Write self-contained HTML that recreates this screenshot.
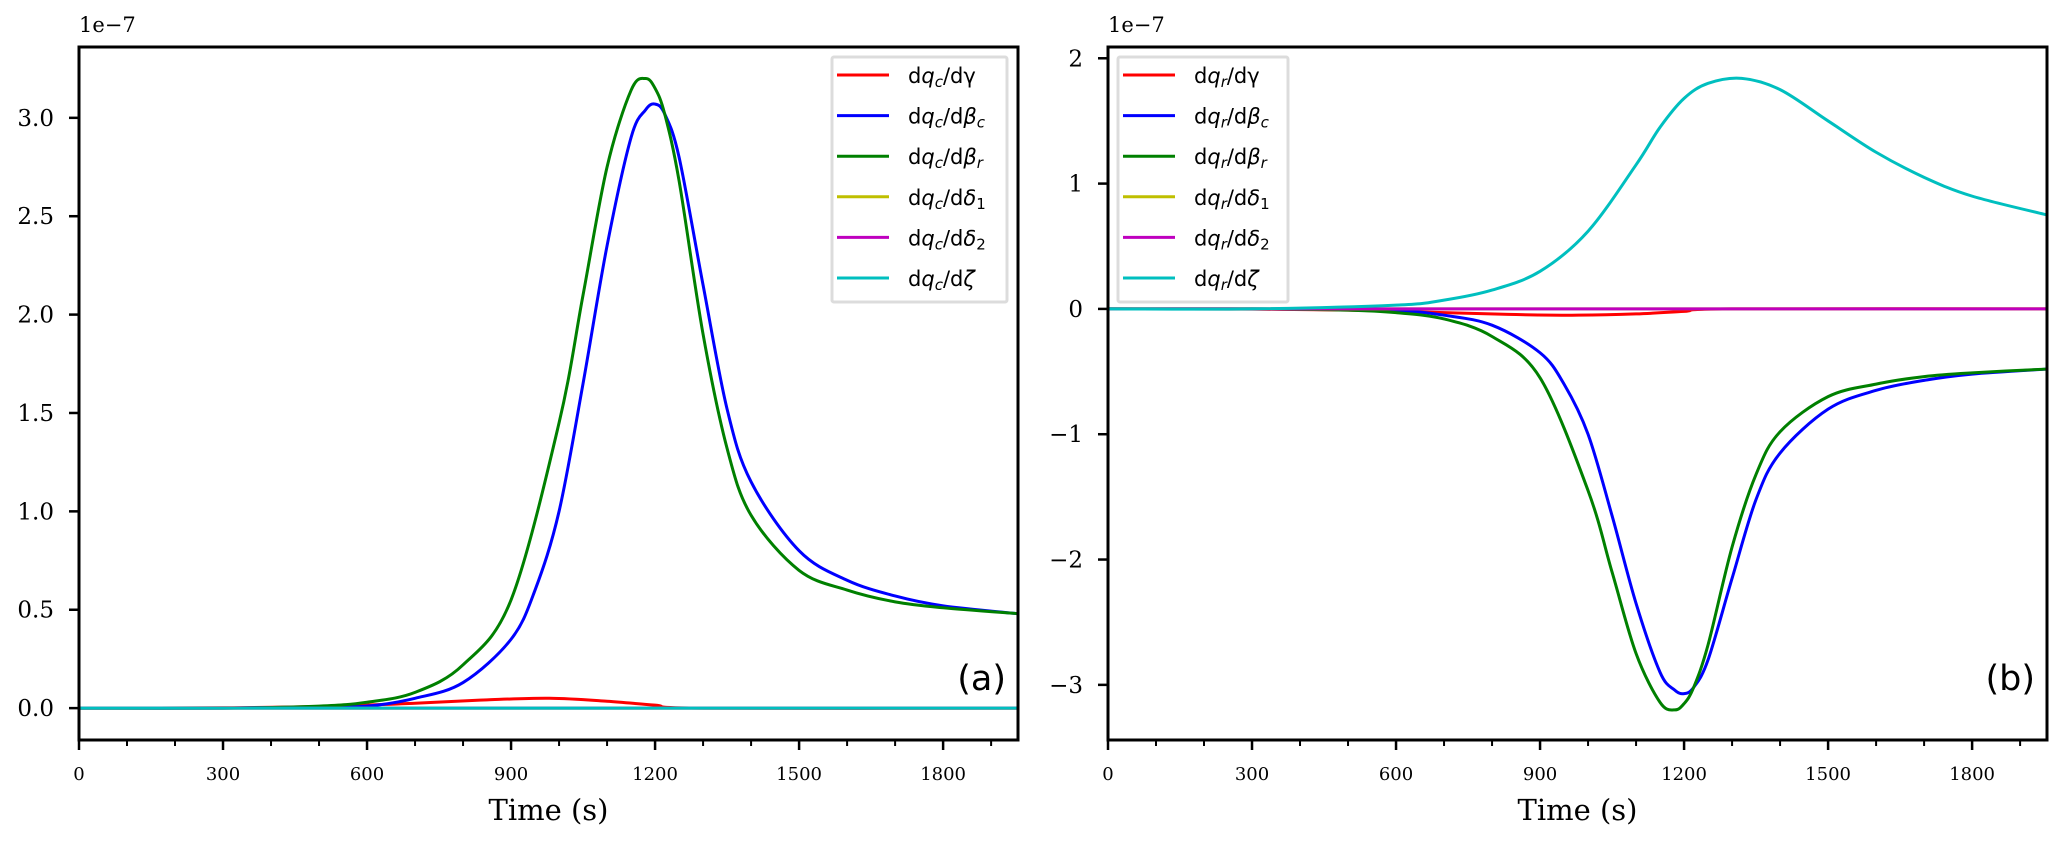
<!DOCTYPE html>
<html><head><meta charset="utf-8"><style>
body{margin:0;background:#fff}
svg text{font-family:"DejaVu Serif","Liberation Serif",serif}
.leg{font-family:"DejaVu Sans","Liberation Sans",sans-serif;font-size:21px}
</style></head><body>
<svg id="c" width="2067" height="848" xmlns="http://www.w3.org/2000/svg"></svg>
<script>
const timesG=[0,300,500,600,700,800,900,1000,1050,1100,1150,1180,1200,1220,1250,1300,1350,1400,1500,1600,1700,1800,1956];
const qcBetaR=[0,0,0.01,0.03,0.08,0.22,0.55,1.45,2.1,2.75,3.14,3.2,3.15,3.02,2.68,1.9,1.32,0.98,0.7,0.6,0.54,0.51,0.48];
const timesB=[0,300,500,600,700,800,900,950,1000,1050,1100,1150,1180,1200,1220,1250,1300,1350,1400,1500,1600,1700,1800,1956];
const qcBetaC=[0,0,0.005,0.01,0.05,0.13,0.35,0.6,1.0,1.65,2.35,2.9,3.04,3.07,3.02,2.8,2.15,1.52,1.15,0.8,0.65,0.57,0.52,0.48];
const timesR=[0,300,500,700,850,980,1100,1200,1300,1956];
const qcGamma=[0,0.002,0.008,0.025,0.042,0.05,0.035,0.015,0,0];
const qrGamma=[0,-0.002,-0.01,-0.03,-0.045,-0.05,-0.04,-0.02,0,0];
const timesZ=[0,300,600,700,800,900,1000,1100,1150,1200,1250,1320,1400,1500,1600,1700,1800,1956];
const qrZeta=[0,0,0.03,0.07,0.15,0.3,0.62,1.15,1.45,1.68,1.8,1.84,1.75,1.5,1.25,1.05,0.9,0.75];
const timesFlat=[0,1956];
const zeros=[0,0];
const qrBetaR=qcBetaR.map(v=>-v);
const qrBetaC=qcBetaC.map(v=>-v);
const xTicks=[0,300,600,900,1200,1500,1800];
const yTicksA=[0,0.5,1,1.5,2,2.5,3];
const yTicksB=[-3,-2,-1,0,1,2];
const NS='http://www.w3.org/2000/svg';
const svg=document.getElementById('c');
function el(t,a,p){const e=document.createElementNS(NS,t);for(const k in a)e.setAttribute(k,a[k]);(p||svg).appendChild(e);return e;}
function panel(P){
 const g=el('g',{});
 
 
 const X=t=>P.x0+(t-0)/(1956)*(P.x1-P.x0);
 const Y=v=>P.y1-(v-P.ymin)/(P.ymax-P.ymin)*(P.y1-P.y0);
 const cols={r:'#ff0000',b:'#0000ff',g:'#008000',y:'#bfbf00',m:'#bf00bf',c:'#00bfbf'};
 P.series.forEach(s=>{
  const pts=s.t.map((t,i)=>[X(t),Y(s.v[i])]);
  let d='M'+pts[0][0]+','+pts[0][1];
  for(let i=0;i<pts.length-1;i++){
   const p0=pts[Math.max(0,i-1)],p1=pts[i],p2=pts[i+1],p3=pts[Math.min(pts.length-1,i+2)];
   const c1=[p1[0]+(p2[0]-p0[0])/6,p1[1]+(p2[1]-p0[1])/6],c2=[p2[0]-(p3[0]-p1[0])/6,p2[1]-(p3[1]-p1[1])/6];
   d+=` C${c1[0]},${c1[1]} ${c2[0]},${c2[1]} ${p2[0]},${p2[1]}`;
  }
  const l=el('path',{d:d,fill:'none',stroke:cols[s.c],'stroke-width':3,'stroke-linejoin':'round'},g);
  
  
 });
 const f=el('rect',{x:P.x0,y:P.y0,width:P.x1-P.x0,height:P.y1-P.y0,fill:'none',stroke:'#000','stroke-width':3},g);
 
 
 xTicks.forEach(t=>{
  el('line',{x1:X(t),x2:X(t),y1:P.y1,y2:P.y1+10,stroke:'#000','stroke-width':2.5},g);
  const tx=el('text',{x:X(t),y:P.y1+40,'text-anchor':'middle','font-size':18},g);tx.textContent=t;
  
  
 });
 for(let t=100;t<1956;t+=100){if(t%300)el('line',{x1:X(t),x2:X(t),y1:P.y1,y2:P.y1+6,stroke:'#000','stroke-width':2},g);}
 P.yt.forEach(v=>{
  el('line',{x1:P.x0-10,x2:P.x0,y1:Y(v),y2:Y(v),stroke:'#000','stroke-width':2.5},g);
  const tx=el('text',{x:P.x0-25,y:Y(v)+8,'text-anchor':'end','font-size':23},g);tx.textContent=P.fmt(v);
  
  
 });
 const ex=el('text',{x:P.x0,y:P.y0-15,'font-size':21},g);ex.textContent='1e\u22127';
 
 
 const xl=el('text',{x:(P.x0+P.x1)/2,y:820,'text-anchor':'middle','font-size':29},g);xl.textContent='Time (s)';
 
 
 const pl=el('text',{x:P.x1-12,y:690,'text-anchor':'end','font-size':35,style:'font-family:"DejaVu Sans",sans-serif'},g);pl.textContent=P.tag;
 
 
 const lg=el('g',{},g);
 
 
 el('rect',{x:P.lx,y:57,width:P.lw,height:245,fill:'#fff',stroke:'#dcdcdc','stroke-width':3,rx:2},lg);
 P.series.slice(0,6).forEach((s,i)=>{
  const y=75+i*40.6;
  el('line',{x1:P.lx+5,x2:P.lx+57,y1:y,y2:y,stroke:cols[s.c],'stroke-width':3},lg);
  const t=el('text',{x:P.lx+76,y:y+8,class:'leg'},lg);
  t.innerHTML='d<tspan font-style="italic">q</tspan><tspan font-style="italic" font-size="15" dy="4">'+P.sub+'</tspan><tspan dy="-4">/d</tspan>'+s.lab;
  
  
 });
}
const subLab=['γ','<tspan font-style="italic">β</tspan><tspan font-style="italic" font-size="15" dy="4">c</tspan>','<tspan font-style="italic">β</tspan><tspan font-style="italic" font-size="15" dy="4">r</tspan>','<tspan font-style="italic">δ</tspan><tspan font-size="15" dy="4">1</tspan>','<tspan font-style="italic">δ</tspan><tspan font-size="15" dy="4">2</tspan>','<tspan font-style="italic">ζ</tspan>'];
panel({name:'panel-a',tag:'(a)',x0:79,x1:1018,y0:47,y1:740,ymin:-0.162,ymax:3.36,yt:yTicksA,fmt:v=>v.toFixed(1),lx:832,lw:175,sub:'c',
 series:[
 {name:'line-dqc-dgamma',c:'r',t:timesR,v:qcGamma,lab:subLab[0]},
 {name:'line-dqc-dbetac',c:'b',t:timesB,v:qcBetaC,lab:subLab[1]},
 {name:'line-dqc-dbetar',c:'g',t:timesG,v:qcBetaR,lab:subLab[2]},
 {name:'line-dqc-ddelta1',c:'y',t:timesFlat,v:zeros,lab:subLab[3]},
 {name:'line-dqc-ddelta2',c:'m',t:timesFlat,v:zeros,lab:subLab[4]},
 {name:'line-dqc-dzeta',c:'c',t:timesFlat,v:zeros,lab:subLab[5]}]});
panel({name:'panel-b',tag:'(b)',x0:1108,x1:2047,y0:47,y1:740,ymin:-3.44,ymax:2.09,yt:yTicksB,fmt:v=>v<0?'\u2212'+(-v):String(v),lx:1118,lw:170,sub:'r',
 series:[
 {name:'line-dqr-dgamma',c:'r',t:timesR,v:qrGamma,lab:subLab[0]},
 {name:'line-dqr-dbetac',c:'b',t:timesB,v:qrBetaC,lab:subLab[1]},
 {name:'line-dqr-dbetar',c:'g',t:timesG,v:qrBetaR,lab:subLab[2]},
 {name:'line-dqr-ddelta1',c:'y',t:timesFlat,v:zeros,lab:subLab[3]},
 {name:'line-dqr-ddelta2',c:'m',t:timesFlat,v:zeros,lab:subLab[4]},
 {name:'line-dqr-dzeta',c:'c',t:timesZ,v:qrZeta,lab:subLab[5]}]});
</script>
</body></html>
